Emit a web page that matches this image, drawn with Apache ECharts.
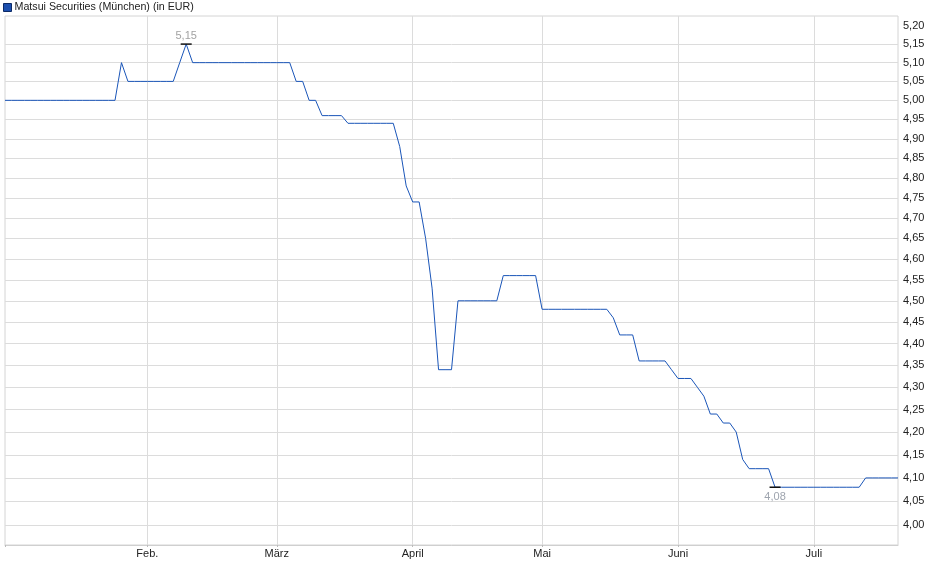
<!DOCTYPE html>
<html>
<head>
<meta charset="utf-8">
<script src="https://cdn.jsdelivr.net/npm/echarts@6/dist/echarts.min.js"></script>
<style>
  html, body { margin: 0; padding: 0; background: #fff; }
  #chart { width: 940px; height: 579px; }
</style>
</head>
<body>
<div id="chart"></div>
<script>
// Handelstage 2025 (Börse München), Feiertage ohne Handel
var holidays = ['2025-01-01', '2025-04-18', '2025-04-21', '2025-05-01'];
var firstDay = '2025-01-02';
var lastDay = '2025-07-18';

// Schlusskurse je Handelstag (EUR)
var prices = [
    5.00, 5.00, 5.00, 5.00, 5.00, 5.00, 5.00, 5.00, 5.00, 5.00,
    5.00, 5.00, 5.00, 5.00, 5.00, 5.00, 5.00, 5.00, 5.10, 5.05,
    5.05, 5.05, 5.05, 5.05, 5.05, 5.05, 5.05, 5.10, 5.15, 5.10,
    5.10, 5.10, 5.10, 5.10, 5.10, 5.10, 5.10, 5.10, 5.10, 5.10,
    5.10, 5.10, 5.10, 5.10, 5.10, 5.05, 5.05, 5.00, 5.00, 4.96,
    4.96, 4.96, 4.96, 4.94, 4.94, 4.94, 4.94, 4.94, 4.94, 4.94,
    4.94, 4.88, 4.78, 4.74, 4.74, 4.65, 4.53, 4.34, 4.34, 4.34,
    4.50, 4.50, 4.50, 4.50, 4.50, 4.50, 4.50, 4.56, 4.56, 4.56,
    4.56, 4.56, 4.56, 4.48, 4.48, 4.48, 4.48, 4.48, 4.48, 4.48,
    4.48, 4.48, 4.48, 4.48, 4.46, 4.42, 4.42, 4.42, 4.36, 4.36,
    4.36, 4.36, 4.36, 4.34, 4.32, 4.32, 4.32, 4.30, 4.28, 4.24,
    4.24, 4.22, 4.22, 4.20, 4.14, 4.12, 4.12, 4.12, 4.12, 4.08,
    4.08, 4.08, 4.08, 4.08, 4.08, 4.08, 4.08, 4.08, 4.08, 4.08,
    4.08, 4.08, 4.08, 4.10, 4.10, 4.10, 4.10, 4.10, 4.10
];

var monthNames = ['Jan.', 'Feb.', 'März', 'April', 'Mai', 'Juni', 'Juli'];
var yLabels = [4.00, 4.05, 4.10, 4.15, 4.20, 4.25, 4.30, 4.35, 4.40, 4.45, 4.50,
    4.55, 4.60, 4.65, 4.70, 4.75, 4.80, 4.85, 4.90, 4.95, 5.00, 5.05, 5.10, 5.15, 5.20];
var yGridLines = yLabels.slice(0, yLabels.length - 1);

function pad(n) { return n < 10 ? '0' + n : '' + n; }

// Kategorien: alle Handelstage
var days = [];
var d = new Date(firstDay + 'T12:00:00Z');
var end = new Date(lastDay + 'T12:00:00Z');
while (d <= end) {
    var s = d.getUTCFullYear() + '-' + pad(d.getUTCMonth() + 1) + '-' + pad(d.getUTCDate());
    var wd = d.getUTCDay();
    if (wd !== 0 && wd !== 6 && holidays.indexOf(s) < 0) days.push(s);
    d.setUTCDate(d.getUTCDate() + 1);
}

// erster Handelstag jedes Monats (außer Januar) bekommt Beschriftung
function isMonthStart(index) {
    if (index === 0) return false;
    return days[index].substr(5, 2) !== days[index - 1].substr(5, 2);
}

function comma(v) { return v.toFixed(2).replace('.', ','); }

var myChart = echarts.init(document.getElementById('chart'));

var option = {
    animation: false,
    textStyle: { fontFamily: 'Liberation Sans, Arial, sans-serif' },
    legend: {
        left: 0,
        top: 0,
        padding: [2, 5, 5, 3],
        itemWidth: 8,
        itemHeight: 8,
        icon: 'rect',
        textStyle: { fontSize: 10.7, color: '#222', padding: [0, 0, 0, -2] },
        data: [{
            name: 'Matsui Securities (München) (in EUR)',
            itemStyle: { color: '#1c4fae', borderColor: '#0d2a66', borderWidth: 1 }
        }]
    },
    grid: {
        left: 5,
        right: 42,
        top: 16,
        bottom: 34,
        show: true,
        borderColor: '#d4d4d4',
        borderWidth: 1
    },
    xAxis: {
        type: 'category',
        data: days,
        boundaryGap: false,
        axisLine: { lineStyle: { color: '#cfcfcf' } },
        axisTick: {
            interval: function (i) { return i === 0 || isMonthStart(i); },
            length: 2,
            lineStyle: { color: '#bbb' }
        },
        axisLabel: {
            interval: function (i) { return isMonthStart(i); },
            formatter: function (v) { return monthNames[parseInt(v.substr(5, 2), 10) - 1]; },
            fontSize: 11,
            color: '#222',
            margin: 3
        },
        splitLine: {
            show: true,
            interval: function (i) { return isMonthStart(i); },
            lineStyle: { color: '#dcdcdc', width: 1 }
        }
    },
    yAxis: {
        type: 'log',
        logBase: 10,
        position: 'right',
        min: 3.958,
        max: 5.2266,
        axisLine: { show: false },
        axisTick: { show: false, customValues: yGridLines },
        axisLabel: {
            customValues: yLabels,
            formatter: function (v) { return comma(v); },
            fontSize: 11,
            color: '#222',
            margin: 5
        },
        splitLine: {
            show: true,
            lineStyle: { color: '#dcdcdc', width: 1 }
        }
    },
    series: [{
        name: 'Matsui Securities (München) (in EUR)',
        type: 'line',
        data: prices,
        showSymbol: false,
        symbol: 'none',
        lineStyle: { color: '#1a55b8', width: 1 },
        itemStyle: { color: '#1a55b8' },
        markPoint: {
            symbol: 'rect',
            symbolSize: [11, 1.5],
            itemStyle: { color: '#111' },
            data: [
                {
                    type: 'max',
                    label: {
                        position: 'top',
                        distance: 2,
                        formatter: function (p) { return comma(p.value); },
                        color: '#a2a2a2',
                        fontSize: 11
                    }
                },
                {
                    type: 'min',
                    label: {
                        position: 'bottom',
                        distance: 3,
                        formatter: function (p) { return comma(p.value); },
                        color: '#9ea4ae',
                        fontSize: 11
                    }
                }
            ]
        }
    }]
};

myChart.setOption(option);
</script>
</body>
</html>
